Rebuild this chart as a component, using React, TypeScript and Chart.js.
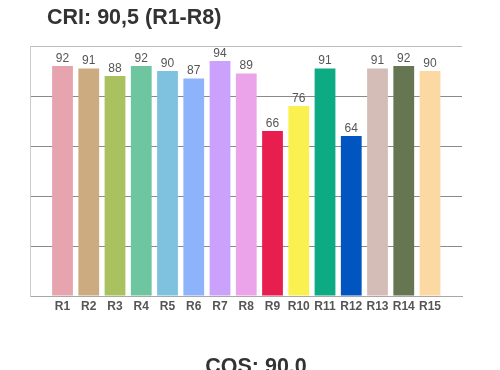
import React, { useEffect, useRef } from "react";
import { Chart, registerables } from "chart.js";

Chart.register(...registerables);

const categories = ["R1", "R2", "R3", "R4", "R5", "R6", "R7", "R8", "R9", "R10", "R11", "R12", "R13", "R14", "R15"];
const values = [92, 91, 88, 92, 90, 87, 94, 89, 66, 76, 91, 64, 91, 92, 90];
const barColors = [
  "#E6A4AE", "#CCAB80", "#A9C15F", "#6DC6A0", "#7FC2E0", "#8DB3FA", "#CBA2FB", "#EBA3E9",
  "#E81F4E", "#FAF150", "#0CAB84", "#0055C0", "#D5BDB7", "#667650", "#FCD8A2",
];
const titleTop = "CRI: 90,5 (R1-R8)";
const titleBottom = "CQS: 90.0";
const yTicks = [0, 20, 40, 60, 80, 100];

const FONT = "'Liberation Sans', Arial, sans-serif";

const valueLabels = {
  id: "valueLabels",
  afterDatasetsDraw(chart: any) {
    const ctx = chart.ctx;
    const meta = chart.getDatasetMeta(0);
    ctx.save();
    ctx.font = `12px ${FONT}`;
    ctx.fillStyle = "#555555";
    ctx.textAlign = "center";
    ctx.textBaseline = "bottom";
    meta.data.forEach((bar: any, i: number) => {
      ctx.fillText(String(values[i]), bar.x, bar.y - 1.5);
    });
    ctx.restore();
  },
};

const titles = {
  id: "titles",
  afterDraw(chart: any) {
    const ctx = chart.ctx;
    ctx.save();
    ctx.font = `bold 21.5px ${FONT}`;
    ctx.fillStyle = "#333333";
    ctx.textBaseline = "alphabetic";
    ctx.textAlign = "left";
    ctx.fillText(titleTop, 47, 23.5);
    ctx.textAlign = "center";
    ctx.fillText(titleBottom, 256, 372.5);
    ctx.restore();
  },
};

export default function App() {
  const ref = useRef<HTMLCanvasElement>(null);
  useEffect(() => {
    if (!ref.current) return;
    const chart = new Chart(ref.current, {
      type: "bar",
      data: {
        datasets: [
          {
            data: values.map((v, i) => ({ x: i + 1, y: v })),
            backgroundColor: barColors,
            borderWidth: 0,
            barPercentage: 0.88,
            categoryPercentage: 0.9,
          },
        ],
      },
      options: {
        animation: false,
        responsive: false,
        maintainAspectRatio: false,
        layout: { padding: { left: 30, right: 38, top: 46, bottom: 53.5 } },
        plugins: { legend: { display: false }, tooltip: { enabled: false }, title: { display: false } },
        scales: {
          x: {
            type: "linear",
            min: 0.31,
            max: 15.67,
            afterBuildTicks: (scale: any) => {
              scale.ticks = categories.map((_, i) => ({ value: i + 1 }));
            },
            grid: { display: false, drawTicks: false },
            border: { display: true, color: "#a8a8a8", width: 1 },
            ticks: {
              autoSkip: false,
              maxRotation: 0,
              padding: 3,
              color: "#555555",
              font: { family: FONT, size: 12, weight: "bold" },
              callback: (v: any) => categories[Number(v) - 1] ?? "",
            },
          },
          y: {
            min: 0,
            max: 100,
            afterBuildTicks: (scale: any) => {
              scale.ticks = yTicks.map((v) => ({ value: v }));
            },
            ticks: { display: false },
            grid: {
              drawTicks: false,
              color: (c: any) => (c.tick && c.tick.value === 100 ? "#bbbbbb" : c.tick && c.tick.value === 0 ? "rgba(0,0,0,0)" : "#8a8a8a"),
            },
            border: { display: true, color: "#cccccc", width: 1 },
          },
        },
      },
      plugins: [valueLabels, titles],
    });
    return () => chart.destroy();
  }, []);
  return (
    <div style={{ position: "fixed", left: 0, top: 0, width: 500, height: 370, background: "#ffffff" }}>
      <canvas ref={ref} width={500} height={370} style={{ width: 500, height: 370 }} />
    </div>
  );
}
